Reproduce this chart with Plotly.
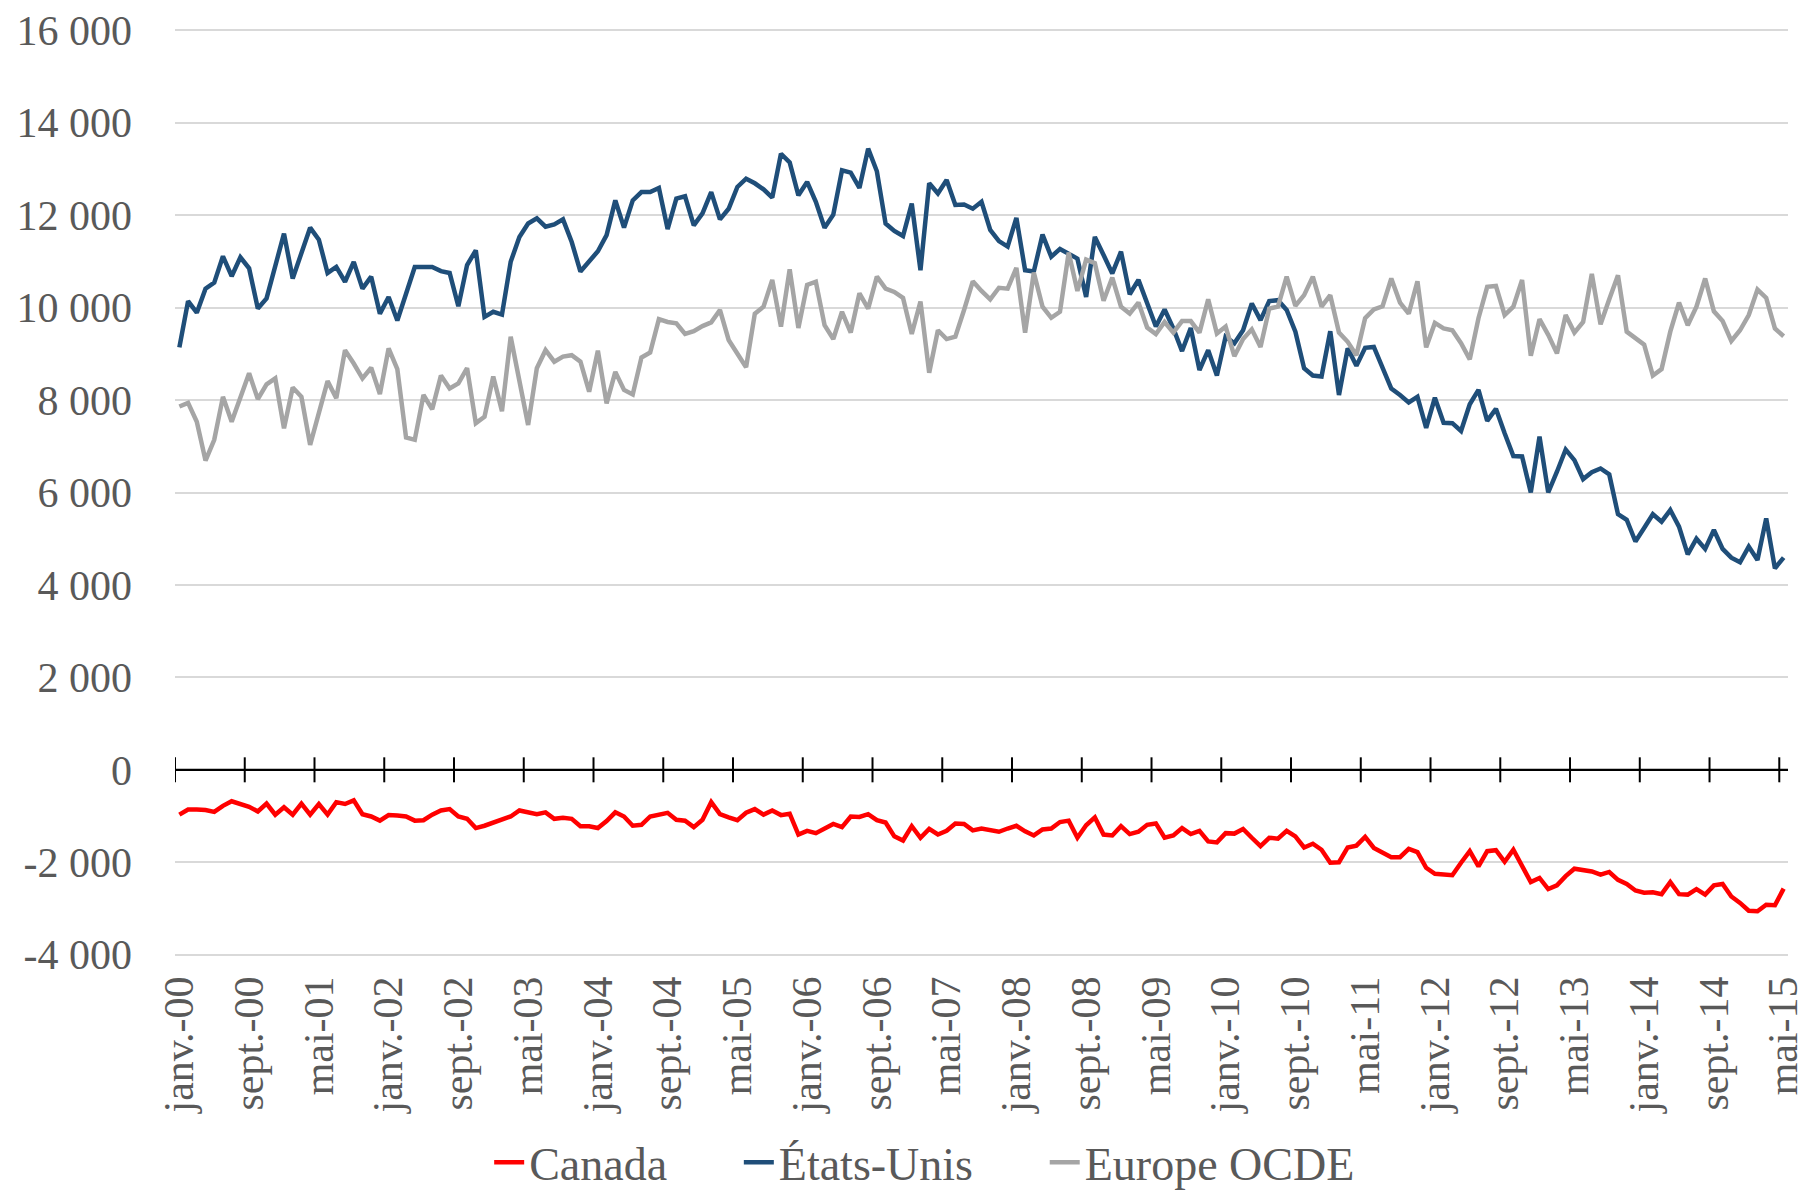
import plotly.graph_objects as go

# ---------------- data ----------------
mois = ["janv.", "févr.", "mars", "avr.", "mai", "juin",
        "juil.", "août", "sept.", "oct.", "nov.", "déc."]
categories = [f"{m}-{y % 100:02d}" for y in range(2000, 2016) for m in mois][:185]  # janv.-00 .. mai-15

canada = [
    -970, -860, -860, -870, -910, -780, -680, -740, -800, -900,
    -730, -970, -810, -970, -730, -970, -740, -970, -700, -740,
    -660, -960, -1010, -1100, -980, -990, -1010, -1100, -1090, -970,
    -880, -850, -1010, -1060, -1260, -1210, -1150, -1080, -1010, -880,
    -910, -960, -920, -1060, -1040, -1060, -1220, -1220, -1260, -1110,
    -920, -1010, -1210, -1190, -1010, -970, -930, -1080, -1100, -1240,
    -1080, -700, -960, -1030, -1090, -930, -850, -970, -880, -980,
    -950, -1400, -1320, -1370, -1260, -1170, -1240, -1010, -1020, -960,
    -1090, -1140, -1440, -1530, -1220, -1470, -1280, -1400, -1320, -1160,
    -1170, -1310, -1270, -1310, -1340, -1270, -1210, -1330, -1420, -1290,
    -1270, -1130, -1100, -1470, -1200, -1030, -1400, -1420, -1220, -1390,
    -1340, -1190, -1160, -1470, -1420, -1260, -1390, -1320, -1550, -1570,
    -1370, -1380, -1280, -1470, -1650, -1470, -1490, -1320, -1440, -1680,
    -1600, -1730, -2010, -2000, -1680, -1640, -1450, -1690, -1780, -1890,
    -1890, -1710, -1780, -2120, -2250, -2270, -2280, -2010, -1760, -2090,
    -1760, -1740, -1990, -1730, -2070, -2430, -2340, -2580, -2500, -2300,
    -2140, -2160, -2200, -2270, -2210, -2380, -2470, -2610, -2660, -2650,
    -2690, -2430, -2690, -2700, -2580, -2700, -2500, -2470, -2740, -2880,
    -3050, -3060, -2920, -2930, -2570,
]

etats_unis = [
    9140, 10140, 9890, 10410, 10540, 11110, 10680, 11090, 10850, 9980,
    10200, 10920, 11600, 10630, 11180, 11730, 11470, 10750, 10880, 10560,
    10990, 10410, 10670, 9870, 10230, 9720, 10300, 10880, 10880, 10880,
    10790, 10750, 10030, 10920, 11240, 9800, 9910, 9850, 10990, 11530,
    11820, 11930, 11750, 11800, 11910, 11420, 10780, 10990, 11220, 11570,
    12320, 11730, 12320, 12500, 12500, 12590, 11700, 12360, 12410, 11780,
    12040, 12500, 11910, 12140, 12610, 12790, 12690, 12560, 12380, 13330,
    13140, 12430, 12720, 12290, 11730, 12010, 12970, 12920, 12590, 13440,
    12950, 11820, 11660, 11550, 12250, 10810, 12690, 12470, 12760, 12220,
    12230, 12140, 12290, 11680, 11440, 11320, 11940, 10810, 10780, 11580,
    11100, 11270, 11160, 11060, 10230, 11530, 11140, 10740, 11210, 10290,
    10600, 10090, 9590, 9960, 9550, 9060, 9560, 8650, 9080, 8530,
    9370, 9230, 9510, 10090, 9730, 10140, 10160, 9950, 9480, 8690,
    8530, 8510, 9490, 8110, 9120, 8740, 9130, 9150, 8690, 8250,
    8110, 7950, 8070, 7400, 8050, 7510, 7500, 7330, 7910, 8220,
    7550, 7810, 7280, 6790, 6780, 6000, 7210, 6000, 6450, 6930,
    6700, 6290, 6440, 6520, 6390, 5530, 5410, 4940, 5230, 5530,
    5370, 5620, 5260, 4660, 5000, 4780, 5190, 4780, 4590, 4490,
    4830, 4540, 5440, 4360, 4590,
]

europe_ocde = [
    7860, 7940, 7530, 6690, 7140, 8070, 7530, 8050, 8580, 8020,
    8340, 8470, 7390, 8270, 8070, 7030, 7710, 8410, 8040, 9080,
    8790, 8470, 8700, 8130, 9120, 8670, 7190, 7140, 8110, 7800,
    8530, 8250, 8360, 8690, 7500, 7640, 8510, 7760, 9370, 8430,
    7460, 8690, 9080, 8830, 8940, 8970, 8830, 8180, 9070, 7930,
    8610, 8220, 8120, 8920, 9030, 9750, 9690, 9660, 9430, 9490,
    9600, 9680, 9950, 9300, 9010, 8710, 9870, 10020, 10600, 9590,
    10830, 9560, 10490, 10560, 9620, 9320, 9910, 9460, 10310, 9980,
    10670, 10410, 10340, 10210, 9430, 10130, 8590, 9510, 9320, 9370,
    9950, 10570, 10360, 10180, 10430, 10410, 10860, 9460, 10760, 10020,
    9780, 9910, 11190, 10360, 11040, 10960, 10150, 10650, 10020, 9870,
    10110, 9570, 9430, 9690, 9460, 9710, 9710, 9460, 10180, 9440,
    9590, 8950, 9320, 9530, 9150, 9980, 10020, 10670, 10040, 10270,
    10670, 10020, 10270, 9460, 9260, 8970, 9770, 9960, 10030, 10630,
    10110, 9870, 10570, 9140, 9670, 9550, 9510, 9230, 8880, 9770,
    10450, 10470, 9840, 10020, 10600, 8960, 9750, 9410, 9010, 9840,
    9460, 9690, 10730, 9640, 10180, 10700, 9480, 9330, 9200, 8530,
    8670, 9480, 10110, 9620, 10020, 10630, 9920, 9710, 9280, 9510,
    9840, 10390, 10210, 9550, 9380,
]

x_tick_labels = categories[::8]
y_tick_values = list(range(-4000, 16001, 2000))
y_tick_labels = ["-4 000", "-2 000", "0", "2 000", "4 000", "6 000", "8 000",
                 "10 000", "12 000", "14 000", "16 000"]

# ---------------- style ----------------
FONT = "Liberation Serif"
TXT = "#595959"
W, H = 1806, 1191
GAP = "\u00a0" * 5 + "\u2009"  # spacing between legend entries

fig = go.Figure()
series = [
    ("Canada", canada, "#FF0000", GAP),
    ("États-Unis", etats_unis, "#1F4E79", GAP),
    ("Europe OCDE", europe_ocde, "#A5A5A5", ""),
]
for name, vals, col, pad in series:
    fig.add_trace(go.Scatter(
        x=categories, y=vals, name=name + pad, mode="lines",
        line=dict(color=col, width=4.5), hovertemplate=name + ": %{y}<extra>%{x}</extra>",
    ))

n = len(categories)
shapes = [dict(type="line", xref="x", yref="y", x0=-0.5, x1=n - 0.5, y0=0, y1=0,
               line=dict(color="black", width=2.25), layer="above")]
for i in range(0, n, 8):
    shapes.append(dict(type="line", xref="x", yref="y", ysizemode="pixel", yanchor=0,
                       x0=i - 0.5, x1=i - 0.5, y0=-12.5, y1=12.5,
                       line=dict(color="black", width=2), layer="above"))

fig.update_layout(
    width=W, height=H,
    margin=dict(l=175, r=18, t=28, b=234),
    paper_bgcolor="white", plot_bgcolor="white",
    font=dict(family=FONT, color=TXT, size=42),
    showlegend=True,
    legend=dict(orientation="h", xref="container", yref="container",
                x=0.512, xanchor="center", y=0.024, yanchor="middle",
                font=dict(family=FONT, size=46, color=TXT),
                itemwidth=30, tracegroupgap=0, bgcolor="rgba(0,0,0,0)"),
    xaxis=dict(type="category", range=[-0.5, n - 0.5], automargin=False,
               tickmode="array", tickvals=x_tick_labels, ticktext=x_tick_labels,
               tickangle=-90, showgrid=False, showline=False, zeroline=False,
               ticks="", ticklabelstandoff=10,
               tickfont=dict(family=FONT, size=42, color=TXT)),
    yaxis=dict(range=[-4050, 16050], automargin=False, tickmode="array",
               tickvals=y_tick_values, ticktext=y_tick_labels,
               showgrid=True, gridcolor="#D9D9D9",
               gridwidth=1.5, zeroline=False, showline=False, ticks="",
               ticklabelstandoff=42,
               tickfont=dict(family=FONT, size=42, color=TXT)),
    shapes=shapes,
)

fig.write_html("out.html", config={"displayModeBar": False},
               post_script="document.body.style.margin='0';")
